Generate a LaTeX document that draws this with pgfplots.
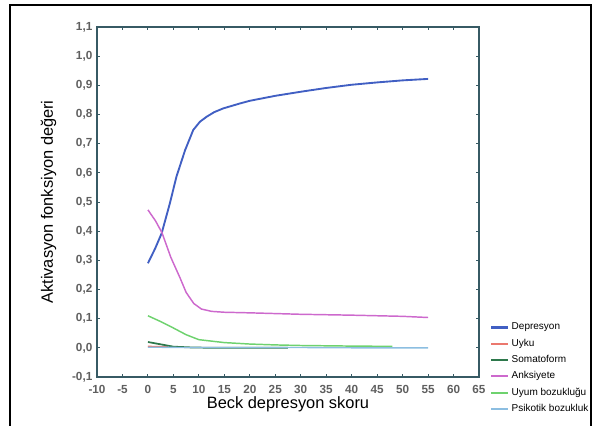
\documentclass[border=0pt]{standalone}
\usepackage{fontspec}
\setmainfont{Liberation Sans}
\usepackage{pgfplots}
\pgfplotsset{compat=1.18}

\definecolor{cDep}{RGB}{65,95,195}
\definecolor{cUyku}{RGB}{235,120,110}
\definecolor{cSom}{RGB}{45,120,75}
\definecolor{cAnk}{RGB}{205,105,205}
\definecolor{cUyum}{RGB}{110,210,110}
\definecolor{cPsi}{RGB}{140,190,225}
\definecolor{cAxis}{RGB}{55,90,100}
\definecolor{cTick}{RGB}{95,95,95}

\begin{document}
\begin{tikzpicture}
% picture area: 595 x 425 px at 0.75pt per px
\useasboundingbox (0pt,0pt) rectangle (446.25pt,318.75pt);
\draw[line width=1pt] (7.5pt,-2pt) -- (7.5pt,315pt) -- (443.25pt,315pt) -- (443.25pt,-2pt);
\begin{axis}[
    at={(72.75pt,36pt)}, anchor=south west,
    scale only axis,
    width=286.5pt, height=262.5pt,
    xmin=-10, xmax=65,
    ymin=-0.1, ymax=1.1,
    xtick={-10,-5,...,65},
    ytick={-0.1,0,0.1,0.2,0.3,0.4,0.5,0.6,0.7,0.8,0.9,1.0,1.1},
    tick align=inside,
    major tick length=2.5pt,
    axis line style={cAxis, line width=0.9pt},
    tick style={cAxis, line width=0.7pt},
    ticklabel style={font=\fontsize{8.8}{10}\selectfont\bfseries, text=cTick},
    /pgf/number format/assume math mode=true,
    yticklabel style={/pgf/number format/.cd, use comma, fixed, fixed zerofill, precision=1},
    xticklabel style={/pgf/number format/.cd, fixed, precision=0, /tikz/yshift=-3pt},
    xtick pos=both, ytick pos=both,
    xlabel={Beck depresyon skoru},
    ylabel={Aktivasyon fonksiyon değeri},
    label style={font=\fontsize{12.3}{14}\selectfont},
    xlabel style={at={(axis description cs:0.5,0)}, yshift=-11pt},
    ylabel style={at={(axis description cs:0,0.5)}, yshift=27pt},
    legend style={at={(1.018,0.17)}, anchor=north west, draw=none, fill=none,
        font=\fontsize{7.5}{9}\selectfont, row sep=1.3pt,
        /tikz/every even column/.append style={column sep=0pt}},
    legend cell align=left,
    legend image code/.code={\draw[#1, line width=1.7pt] (0pt,0pt) -- (12.5pt,0pt);},
    clip=false,
]
\addplot[cDep, line width=1.4pt] coordinates {
    (0,0.29)(1.4,0.34)(2.7,0.393)(4.3,0.495)(5.6,0.587)(7.3,0.678)(8.9,0.747)
    (10.2,0.775)(11.5,0.792)(13,0.808)(14.8,0.821)(18.1,0.838)(20,0.847)
    (25,0.864)(30,0.878)(35,0.891)(40,0.902)(45,0.910)(50,0.917)(55,0.922)};
\addplot[cUyku, line width=1.1pt] coordinates {
    (0,0.005)(2,0.004)(4,0.003)};
\addplot[cSom, line width=1.3pt] coordinates {
    (0,0.02)(2.5,0.012)(5,0.004)(9,0.001)(15,0.0)(20,0.0)(27.5,0.0)};
\addplot[cAnk, line width=1.1pt] coordinates {
    (0,0.473)(1.5,0.435)(2.75,0.395)(4.5,0.31)(6.3,0.24)(7.5,0.19)(9,0.152)
    (10.5,0.133)(12.5,0.125)(15,0.122)(20,0.12)(30,0.115)(40,0.112)(50,0.108)(55,0.104)};
\addplot[cUyum, line width=1.1pt] coordinates {
    (0,0.11)(2.5,0.09)(5,0.068)(7.5,0.045)(10,0.028)(15,0.018)(20,0.013)
    (25,0.01)(30,0.008)(40,0.006)(48,0.005)};
\addplot[cPsi, line width=1.0pt] coordinates {
    (0,0.002)(10,0.001)(20,0.001)(30,0.001)(40,0.0)(50,0.0)(55,0.0)};
\legend{Depresyon,Uyku,Somatoform,Anksiyete,Uyum bozukluğu,Psikotik bozukluk}
\end{axis}
\end{tikzpicture}
\end{document}
